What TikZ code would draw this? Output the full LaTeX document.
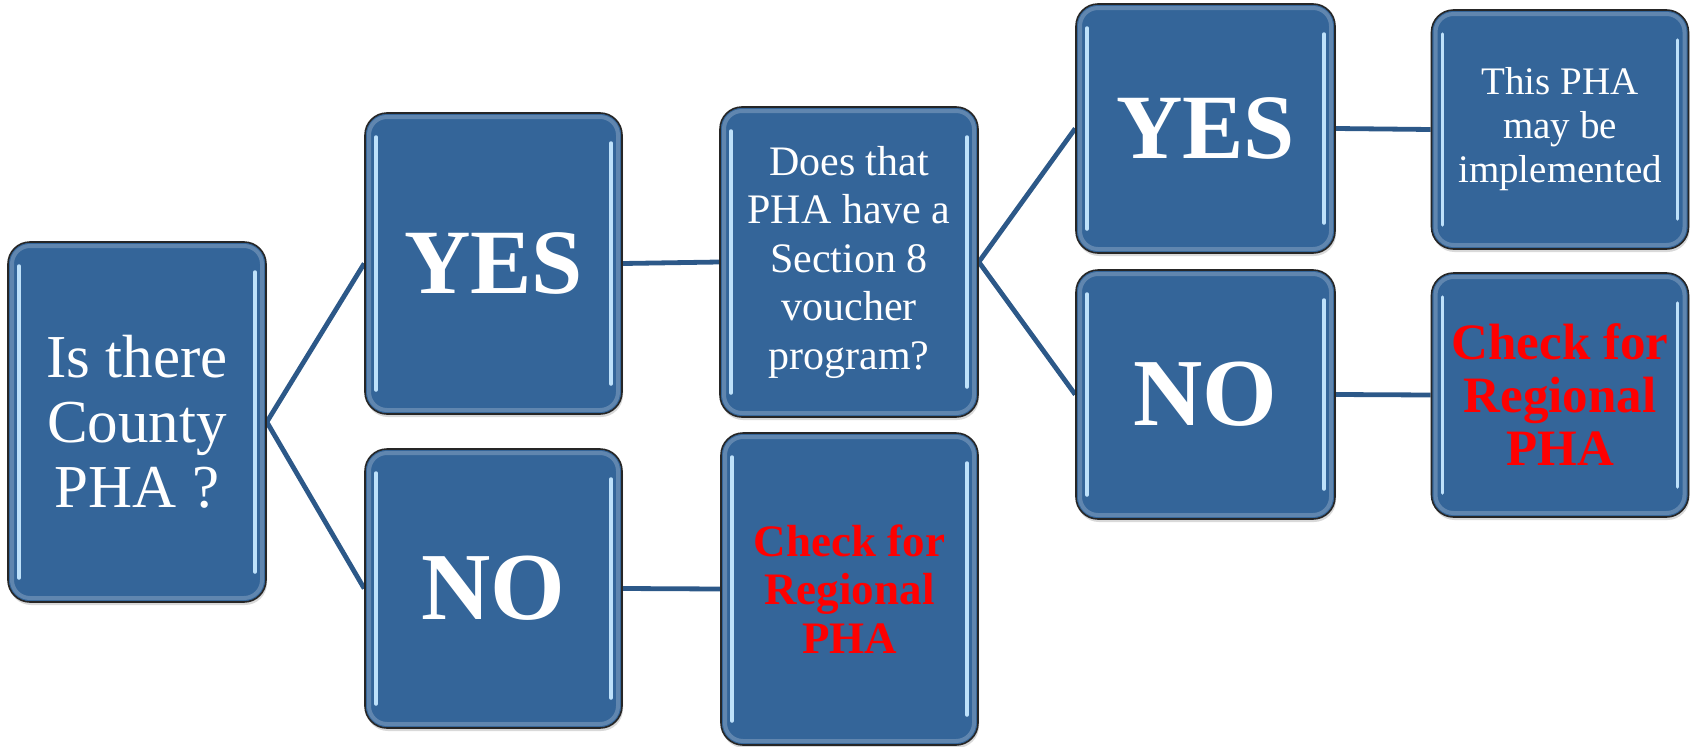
\documentclass[tikz,border=0pt]{standalone}
\usepackage{fontspec}
\setmainfont{Liberation Serif}
\usetikzlibrary{shadows,backgrounds}
\definecolor{boxblue}{RGB}{52,101,153}
\definecolor{linkblue}{RGB}{44,88,136}
\definecolor{shine}{RGB}{190,225,250}
\definecolor{alertred}{RGB}{255,0,0}
\tikzset{
  box/.style={draw=black!85, line width=1.6pt, fill=boxblue, rounded corners=22pt,
    align=center, text=white, inner sep=0pt,
    drop shadow={shadow xshift=1pt,shadow yshift=-3pt,opacity=0.3},
    path picture={
      \draw[white, opacity=0.22, line width=4pt, rounded corners=18pt]
        ([xshift=4pt,yshift=-4pt]path picture bounding box.north west) rectangle
        ([xshift=-4pt,yshift=4pt]path picture bounding box.south east);
      \draw[shine, line width=3.5pt, line cap=round]
        ([xshift=11pt,yshift=-24pt]path picture bounding box.north west) --
        ([xshift=11pt,yshift=24pt]path picture bounding box.south west);
      \draw[shine, line width=3.5pt, line cap=round]
        ([xshift=-11pt,yshift=-30pt]path picture bounding box.north east) --
        ([xshift=-11pt,yshift=30pt]path picture bounding box.south east);
    }},
  link/.style={draw=linkblue, line width=4.8pt},
  bigword/.style={font=\bfseries\fontsize{92}{92}\selectfont},
  noword/.style={font=\bfseries\fontsize{96}{96}\selectfont}
}
\begin{document}
\begin{tikzpicture}[x=1pt,y=-1pt]
\useasboundingbox (0,0) rectangle (1690,747);

\node[box, minimum width=258pt, minimum height=360pt,
      font=\fontsize{61}{65}\selectfont] (b1) at (137,422) {Is there\\County\\PHA ?};
\node[box, bigword, minimum width=257pt, minimum height=301pt] (yes1) at (493.5,263.5) {YES};
\node[box, noword, minimum width=257pt, minimum height=279pt] (no1) at (493.5,588.5) {NO};
\node[box, minimum width=258pt, minimum height=310pt,
      font=\fontsize{42}{48.5}\selectfont] (q) at (849,262) {Does that\\PHA have a\\Section 8\\voucher\\program?};
\node[box, minimum width=257pt, minimum height=312pt, text=alertred,
      font=\bfseries\fontsize{45}{48.5}\selectfont] (c1) at (849.5,589) {Check for\\Regional\\PHA};
\node[box, bigword, minimum width=259pt, minimum height=249pt] (yes2) at (1205.5,128.5) {YES};
\node[box, noword, minimum width=259pt, minimum height=249pt] (no2) at (1205.5,394.5) {NO};
\node[box, minimum width=257pt, minimum height=239pt,
      font=\fontsize{39}{44}\selectfont] (this) at (1560,129.5) {This PHA\\may be\\implemented};
\node[box, minimum width=257pt, minimum height=244pt, text=alertred,
      font=\bfseries\fontsize{51}{53}\selectfont] (c2) at (1560,395) {Check for\\Regional\\PHA};

\begin{pgfonlayer}{background}
\draw[link] (b1.east) -- (yes1.west);
\draw[link] (b1.east) -- (no1.west);
\draw[link] (yes1.east) -- (q.west);
\draw[link] (no1.east) -- (c1.west);
\draw[link] (q.east) -- (yes2.west);
\draw[link] (q.east) -- (no2.west);
\draw[link] (yes2.east) -- (this.west);
\draw[link] (no2.east) -- (c2.west);
\end{pgfonlayer}
\end{tikzpicture}
\end{document}
